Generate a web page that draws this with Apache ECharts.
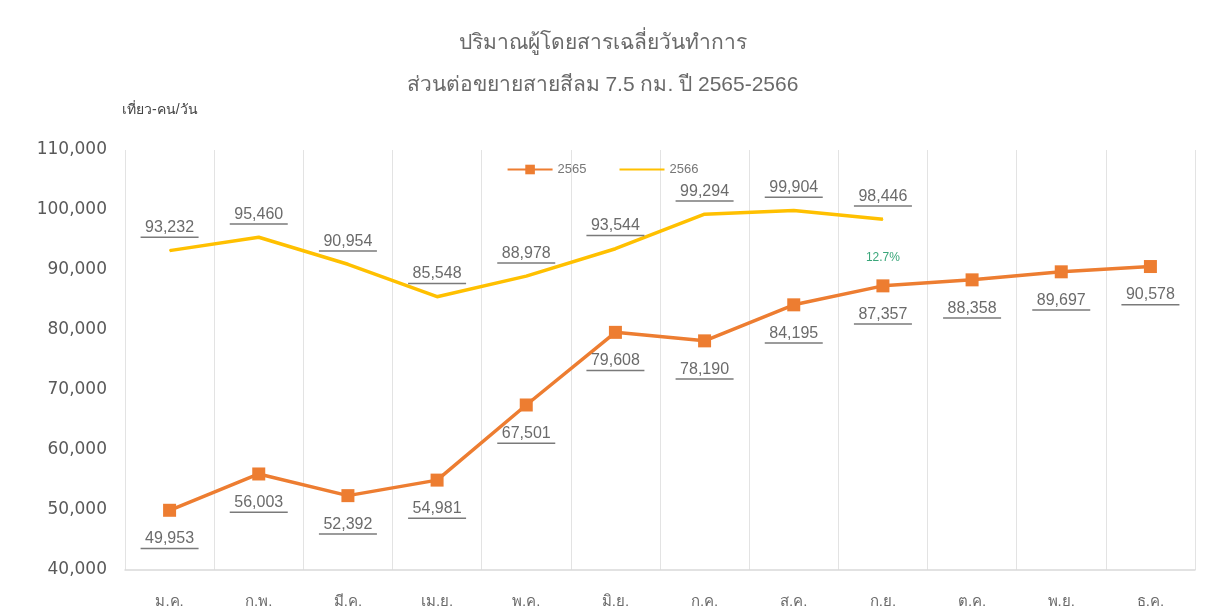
<!DOCTYPE html>
<html>
<head>
<meta charset="utf-8">
<script src="https://cdn.jsdelivr.net/npm/echarts@6/dist/echarts.min.js"></script>
<style>
  html, body { margin: 0; padding: 0; background: #fff; }
  #chart { width: 1205px; height: 613px; }
</style>
</head>
<body>
<div id="chart"></div>
<script>
// เดือน
const months = ['ม.ค.', 'ก.พ.', 'มี.ค.', 'เม.ย.', 'พ.ค.', 'มิ.ย.', 'ก.ค.', 'ส.ค.', 'ก.ย.', 'ต.ค.', 'พ.ย.', 'ธ.ค.'];
const data2565 = [49953, 56003, 52392, 54981, 67501, 79608, 78190, 84195, 87357, 88358, 89697, 90578];
const data2566 = [93232, 95460, 90954, 85548, 88978, 93544, 99294, 99904, 98446, null, null, null];
const growthNote = { month: 'ก.ย.', value: 92000, text: '12.7%' };

const fmt = v => v.toLocaleString('en-US');

const dataLabel = (pos, dist) => ({
  show: true,
  position: pos,
  distance: dist,
  formatter: p => '{v|' + fmt(p.value) + '}\n{u|}',
  rich: {
    v: { fontFamily: 'Liberation Sans', fontSize: 16, color: '#6b6b6b', lineHeight: 18, align: 'center' },
    u: { width: 58, height: 1.5, backgroundColor: '#7a7a7a', align: 'center' }
  }
});

const chart = echarts.init(document.getElementById('chart'));
chart.setOption({
  backgroundColor: '#fff',
  animation: false,
  title: {
    text: 'ปริมาณผู้โดยสารเฉลี่ยวันทำการ',
    subtext: 'ส่วนต่อขยายสายสีลม 7.5 กม. ปี 2565-2566',
    left: 'center',
    top: 28,
    itemGap: 21,
    textStyle: { fontSize: 21, fontWeight: 'normal', color: '#6a6a6a' },
    subtextStyle: { fontSize: 21, color: '#6a6a6a' }
  },
  legend: {
    top: 158,
    left: 'center',
    itemWidth: 45,
    itemHeight: 12,
    itemGap: 32,
    textStyle: { fontSize: 13, color: '#777' },
    data: [
      { name: '2565' },
      { name: '2566', itemStyle: { color: 'rgba(0,0,0,0)', opacity: 0 } }
    ]
  },
  grid: { left: 125, right: 10, top: 150, bottom: 43 },
  xAxis: {
    type: 'category',
    data: months,
    boundaryGap: true,
    axisLine: { lineStyle: { color: '#d9d9d9', width: 1.5 } },
    axisTick: { show: false },
    splitLine: { show: true, lineStyle: { color: '#e3e3e3' } },
    axisLabel: { color: '#6a6a6a', fontSize: 15, margin: 24 }
  },
  yAxis: {
    type: 'value',
    min: 40000,
    max: 110000,
    interval: 10000,
    name: 'เที่ยว-คน/วัน',
    nameLocation: 'end',
    nameGap: 33,
    nameTextStyle: { align: 'left', color: '#444', fontSize: 14, padding: [0, 0, 0, -3] },
    axisLine: { show: false },
    axisTick: { show: false },
    splitLine: { show: false },
    axisLabel: { color: '#595959', fontSize: 17, fontFamily: 'DejaVu Sans', margin: 18, formatter: fmt }
  },
  series: [
    {
      name: '2565',
      type: 'line',
      data: data2565,
      symbol: 'rect',
      symbolSize: 13,
      itemStyle: { color: '#ED7D31' },
      lineStyle: { width: 3.5, color: '#ED7D31' },
      label: dataLabel('bottom', 13),
      z: 3
    },
    {
      name: '2566',
      type: 'line',
      data: data2566,
      symbol: 'circle',
      symbolSize: 1,
      itemStyle: { color: '#FFC000' },
      lineStyle: { width: 3.5, color: '#FFC000' },
      label: dataLabel('top', 12),
      markPoint: {
        symbol: 'circle',
        symbolSize: 0,
        data: [{ coord: [growthNote.month, growthNote.value] }],
        label: {
          show: true,
          position: 'inside',
          formatter: growthNote.text,
          color: '#3aa67a',
          fontSize: 12
        }
      },
      z: 2
    }
  ]
});
</script>
</body>
</html>
